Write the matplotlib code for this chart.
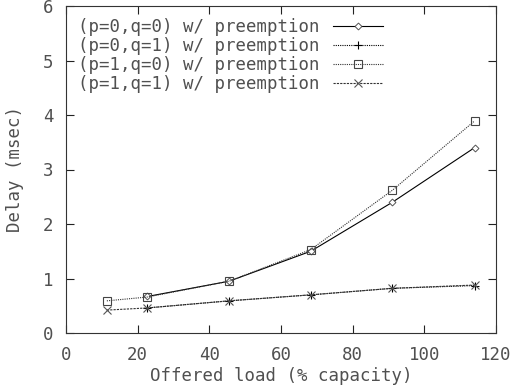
import matplotlib
matplotlib.use("Agg")
import matplotlib.pyplot as plt

x_all = [11.4, 22.7, 45.5, 68.3, 91.1, 114.0]
x_p0 = [22.7, 45.5, 68.3, 91.1, 114.0]
p0q0 = [0.67, 0.95, 1.50, 2.40, 3.40]
p0q1 = [0.46, 0.59, 0.70, 0.82, 0.87]
p1q0 = [0.59, 0.66, 0.95, 1.53, 2.62, 3.89]
p1q1 = [0.42, 0.46, 0.59, 0.70, 0.82, 0.88]
labels = ["(p=0,q=0) w/ preemption", "(p=0,q=1) w/ preemption",
          "(p=1,q=0) w/ preemption", "(p=1,q=1) w/ preemption"]
xticks = [0, 20, 40, 60, 80, 100, 120]
yticks = [0, 1, 2, 3, 4, 5, 6]

FS = 12.5
TXT = '#505050'
plt.rcParams['font.family'] = ['DejaVu Sans Mono']
plt.rcParams['font.size'] = FS

fig = plt.figure(figsize=(5.17, 3.92), dpi=100)
W, H = 517, 392
ax = fig.add_axes([66/W, 59/H, 430/W, 327/H])

ax.plot(x_p0, p0q0, color='black', lw=0.8, ls='-', marker='D', ms=3.5,
        mfc='white', mec='#555555', mew=0.7, label=labels[0])
ax.plot(x_p0, p0q1, color='black', lw=0.8, ls=(0, (1, 1)), marker='+', ms=6,
        mec='black', mew=0.8, label=labels[1])
ax.plot(x_all, p1q0, color='#333333', lw=0.8, ls=(0, (1, 1)), marker='s', ms=6,
        mfc='none', mec='#444444', mew=0.8, label=labels[2])
ax.plot(x_all, p1q1, color='#333333', lw=0.8, ls=(0, (2, 1)), marker='x', ms=6,
        mec='#555555', mew=0.8, label=labels[3])

ax.set_xlim(0, 120)
ax.set_ylim(0, 6)
ax.set_xticks(xticks)
ax.set_yticks(yticks)
ax.tick_params(direction='in', top=True, right=True, length=6, width=0.8,
               colors='#222222', labelcolor=TXT, pad=9)
for s in ax.spines.values():
    s.set_linewidth(0.8)
    s.set_color('#333333')
ax.set_xlabel("Offered load (% capacity)", color=TXT)
ax.set_ylabel("Delay (msec)", color=TXT)
ax.xaxis.set_label_coords(0.5, -(367 - 333) / 327, transform=ax.transAxes)
ax.yaxis.set_label_coords(-(66 - 24) / 430, 0.5, transform=ax.transAxes)

leg = ax.legend(loc='upper left', frameon=False, markerfirst=False,
                handlelength=2.9, handletextpad=0.75, labelspacing=0.05,
                borderaxespad=0.2, borderpad=0.5, fontsize=FS)
for t in leg.get_texts():
    t.set_color(TXT)

fig.savefig("out.png", dpi=100)
